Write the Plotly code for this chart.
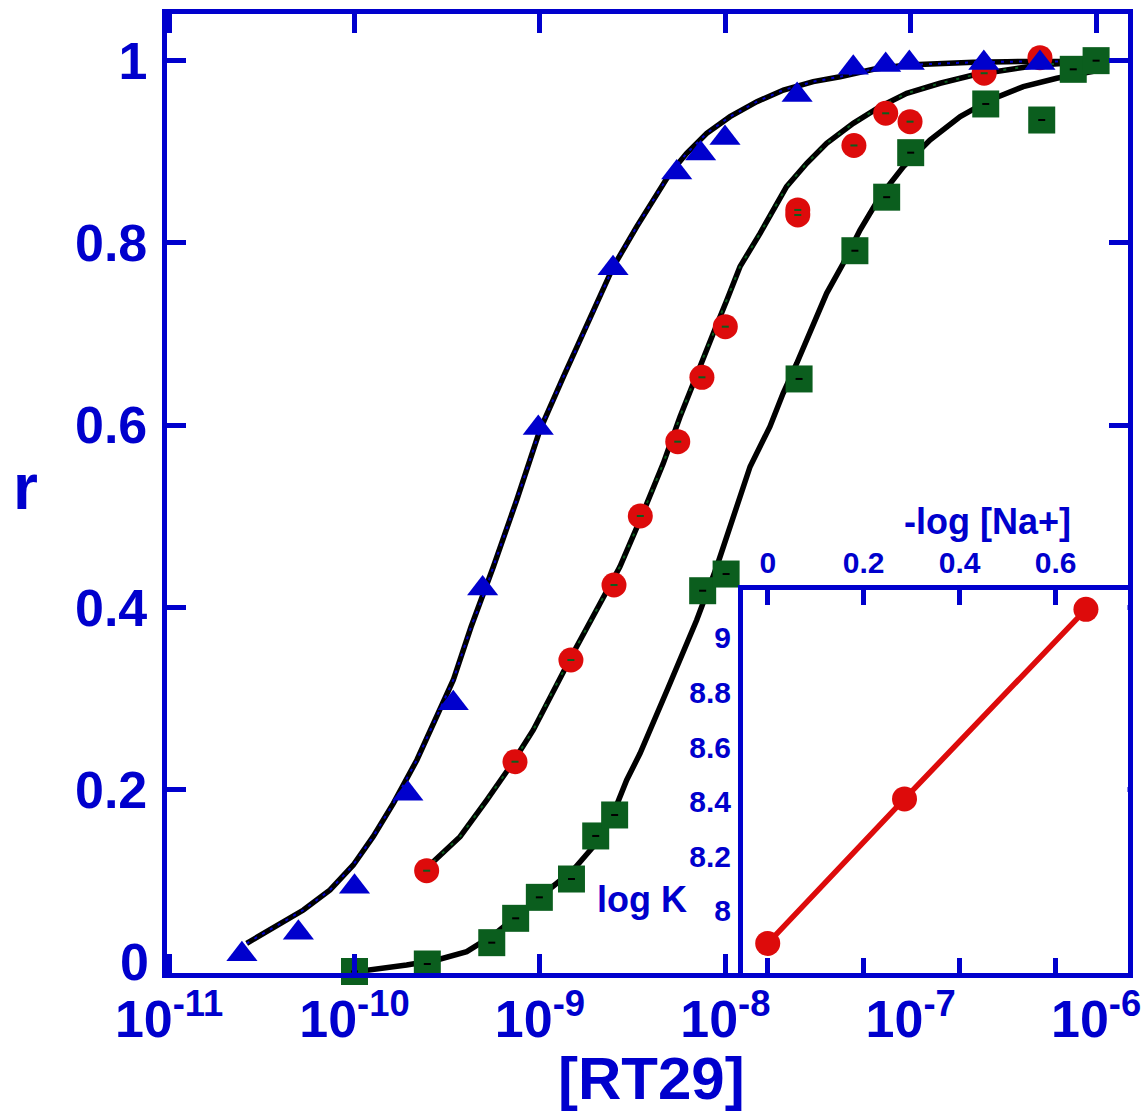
import plotly.graph_objects as go

# ---------------- data ----------------
# binding isotherms: r versus free [RT29] (M) at three ionic strengths
tri_x = [2.47e-11, 4.98e-11, 1.00e-10, 1.94e-10, 3.41e-10, 4.91e-10, 9.80e-10, 2.48e-9,
         5.47e-9, 7.36e-9, 9.96e-9, 2.44e-8, 4.90e-8, 7.33e-8, 9.83e-8, 2.48e-7, 4.98e-7]
tri_r = [0.020, 0.0435, 0.094, 0.196, 0.295, 0.421, 0.597, 0.772,
         0.877, 0.898, 0.915, 0.962, 0.992, 0.995, 0.997, 0.997, 0.997]

circ_x = [2.45e-10, 7.34e-10, 1.47e-9, 2.51e-9, 3.48e-9, 5.54e-9, 7.48e-9, 1.00e-8,
          2.46e-8, 2.46e-8, 4.94e-8, 7.33e-8, 9.92e-8, 2.49e-7, 4.98e-7]
circ_r = [0.1115, 0.231, 0.3425, 0.4248, 0.5004, 0.5819, 0.6525, 0.708,
          0.836, 0.8305, 0.9067, 0.942, 0.9328, 0.9859, 1.003]

sq_x = [1.00e-10, 2.47e-10, 5.50e-10, 7.40e-10, 9.93e-10, 1.48e-9, 2.00e-9, 2.53e-9, 7.55e-9,
        1.01e-8, 2.50e-8, 5.00e-8, 7.42e-8, 1.00e-7, 2.54e-7, 5.09e-7, 7.53e-7, 1.00e-6]
sq_r = [0.001, 0.0092, 0.0326, 0.0593, 0.0823, 0.1024, 0.1496, 0.1726, 0.4185,
        0.4368, 0.6507, 0.7913, 0.850, 0.8988, 0.9522, 0.9346, 0.9902, 0.9997]

# fitted curves
fit1_x = [2.62e-11, 3.36e-11, 5.30e-11, 7.38e-11, 9.85e-11, 1.26e-10, 1.62e-10, 2.17e-10,
          2.78e-10, 3.41e-10, 4.25e-10, 5.17e-10, 5.61e-10, 7.50e-10, 1.00e-9, 1.34e-9,
          1.79e-9, 2.49e-9, 3.33e-9, 4.09e-9, 5.03e-9, 6.19e-9, 7.94e-9, 1.06e-8, 1.48e-8,
          2.06e-8, 2.98e-8, 4.16e-8, 6.29e-8, 9.52e-8, 1.44e-7, 2.18e-7, 3.30e-7, 4.98e-7, 6.39e-7]
fit1_r = [0.0319, 0.0446, 0.0684, 0.0904, 0.1178, 0.1488, 0.1854, 0.2329,
          0.2804, 0.3206, 0.3787, 0.4229, 0.4448, 0.518, 0.5947, 0.6532,
          0.708, 0.7738, 0.8177, 0.8469, 0.8762, 0.8981, 0.9201, 0.9383, 0.9547,
          0.9675, 0.9767, 0.9821, 0.9902, 0.995, 0.9968, 0.9979, 0.9986, 0.9986, 0.9988]

fit2_x = [2.66e-10, 3.71e-10, 5.17e-10, 6.90e-10, 9.21e-10, 1.18e-9, 1.51e-9, 2.02e-9,
          2.70e-9, 3.47e-9, 4.63e-9, 5.70e-9, 7.01e-9, 8.62e-9, 1.02e-8, 1.20e-8, 1.54e-8,
          2.14e-8, 2.75e-8, 3.52e-8, 4.90e-8, 6.83e-8, 9.52e-8, 1.44e-7, 2.18e-7, 3.30e-7,
          4.98e-7, 7.53e-7]
fit2_r = [0.1214, 0.1488, 0.189, 0.2255, 0.2658, 0.3096, 0.3499, 0.3974,
          0.4448, 0.4961, 0.5582, 0.6093, 0.6569, 0.7008, 0.7373, 0.7738, 0.8104,
          0.8615, 0.8872, 0.9091, 0.931, 0.9492, 0.9639, 0.9749, 0.984, 0.9902,
          0.995, 0.9975]

fit3_x = [1.12e-10, 1.49e-10, 1.91e-10, 2.78e-10, 4.03e-10, 5.61e-10, 7.81e-10, 1.13e-9,
          1.51e-9, 1.94e-9, 2.49e-9, 2.94e-9, 3.47e-9, 4.91e-9, 7.01e-9, 8.99e-9, 1.10e-8,
          1.36e-8, 1.74e-8, 2.05e-8, 2.43e-8, 2.86e-8, 3.52e-8, 4.33e-8, 5.33e-8, 6.83e-8,
          9.12e-8, 1.27e-7, 1.85e-7, 2.68e-7, 4.05e-7, 6.13e-7, 1.05e-6]
fit3_r = [0.0019, 0.0045, 0.0081, 0.0136, 0.0227, 0.041, 0.0648, 0.0904,
          0.1123, 0.1378, 0.1745, 0.211, 0.2402, 0.3118, 0.3864, 0.4448, 0.4997,
          0.5545, 0.5984, 0.635, 0.6679, 0.7025, 0.7446, 0.7775, 0.814, 0.8506,
          0.8834, 0.9127, 0.9383, 0.9566, 0.9712, 0.9804, 0.9895]

# inset: log K versus -log [Na+]
na_x = [0.0, 0.285, 0.663]
logk = [7.88, 8.41, 9.105]

x_tick_vals = [1e-11, 1e-10, 1e-9, 1e-8, 1e-7, 1e-6]
x_tick_text = ["10<sup>-11</sup>", "10<sup>-10</sup>", "10<sup>-9</sup>",
               "10<sup>-8</sup>", "10<sup>-7</sup>", "10<sup>-6</sup>"]
y_tick_vals = [0, 0.2, 0.4, 0.6, 0.8, 1.0]
y_tick_text = ["", "0.2", "0.4", "0.6", "0.8", "1"]
ins_x_ticks = [0, 0.2, 0.4, 0.6]
ins_y_ticks = [8, 8.2, 8.4, 8.6, 8.8, 9]

# ---------------- style ----------------
BLUE = "#0000CD"
RED = "#DD0B0B"
GREEN = "#0B5E1E"
FONT = "Liberation Sans"
W, H = 1148, 1115


def fx(p):
    return p / W


def fy(p):
    return 1 - p / H


fig = go.Figure()

# fitted curves (black) with thin coloured dotted overlays
for cx, cy in [(fit1_x, fit1_r), (fit2_x, fit2_r), (fit3_x, fit3_r)]:
    fig.add_trace(go.Scatter(x=cx, y=cy, mode="lines",
                             line=dict(color="black", width=5.5), hoverinfo="skip"))
fig.add_trace(go.Scatter(x=fit1_x, y=fit1_r, mode="lines",
                         line=dict(color=BLUE, width=2, dash="3px,6px"), hoverinfo="skip"))
fig.add_trace(go.Scatter(x=fit2_x, y=fit2_r, mode="lines",
                         line=dict(color=GREEN, width=2, dash="3px,9px"), hoverinfo="skip"))

# data points
fig.add_trace(go.Scatter(x=circ_x, y=circ_r, mode="markers", cliponaxis=False,
                         marker=dict(symbol="circle", size=25, color=RED, line=dict(width=0))))
fig.add_trace(go.Scatter(x=circ_x, y=circ_r, mode="markers", cliponaxis=False,
                         marker=dict(symbol="line-ew", size=5, line=dict(color=GREEN, width=2))))
fig.add_trace(go.Scatter(x=sq_x, y=sq_r, mode="markers", cliponaxis=False,
                         marker=dict(symbol="square", size=27, color=GREEN, line=dict(width=0))))
fig.add_trace(go.Scatter(x=sq_x, y=sq_r, mode="markers", cliponaxis=False,
                         marker=dict(symbol="line-ew", size=5, line=dict(color="black", width=2))))
fig.add_trace(go.Scatter(x=tri_x, y=tri_r, mode="markers", cliponaxis=False,
                         marker=dict(symbol="triangle-up", size=27, color=BLUE, line=dict(width=0))))

# inset
fig.add_trace(go.Scatter(x=na_x, y=logk, mode="lines+markers", xaxis="x2", yaxis="y2",
                         cliponaxis=False,
                         line=dict(color=RED, width=5.5),
                         marker=dict(symbol="circle", size=25, color=RED, line=dict(width=0))))

tick_font = dict(family=FONT, size=52, color=BLUE, weight="bold")
ins_font = dict(family=FONT, size=30, color=BLUE, weight="bold")

fig.update_layout(
    width=W, height=H,
    margin=dict(l=0, r=0, t=0, b=0, autoexpand=False),
    paper_bgcolor="white", plot_bgcolor="white",
    showlegend=False,
    xaxis=dict(type="log", range=[-11.013, -5.8306], automargin=False,
               domain=[fx(166.7), fx(1127.5)],
               tickvals=x_tick_vals, ticktext=x_tick_text,
               ticks="inside", ticklen=19, tickwidth=5, tickcolor=BLUE,
               showline=True, linewidth=5, linecolor=BLUE, mirror="ticks",
               showgrid=False, zeroline=False, tickfont=tick_font,
               ticklabelstandoff=-3),
    yaxis=dict(range=[-0.00066, 1.0514], automargin=False,
               domain=[fy(973), fy(13.5)],
               tickvals=y_tick_vals, ticktext=y_tick_text,
               ticks="inside", ticklen=19, tickwidth=5, tickcolor=BLUE,
               showline=True, linewidth=5, linecolor=BLUE, mirror="ticks",
               showgrid=False, zeroline=False, tickfont=tick_font,
               ticklabelstandoff=4),
    xaxis2=dict(range=[-0.0515, 0.7496], domain=[fx(743), fx(1127.5)], automargin=False,
                anchor="y2", side="top",
                tickvals=ins_x_ticks, ticktext=["0", "0.2", "0.4", "0.6"],
                ticks="inside", ticklen=15, tickwidth=5, tickcolor=BLUE,
                showline=True, linewidth=5, linecolor=BLUE, mirror="ticks",
                showgrid=False, zeroline=False, tickfont=ins_font,
                ticklabelstandoff=0),
    yaxis2=dict(range=[7.7715, 9.176], domain=[fy(973), fy(590)], automargin=False,
                anchor="x2",
                tickvals=ins_y_ticks, ticktext=["8", "8.2", "8.4", "8.6", "8.8", "9"],
                ticks="", showline=True, linewidth=5, linecolor=BLUE, mirror=True,
                showgrid=False, zeroline=False, tickfont=ins_font,
                ticklabelstandoff=1),
)

ann_font = dict(family=FONT, color=BLUE, weight="bold")
annotations = [
    dict(text="[RT29]", x=fx(651.5), y=fy(1078), font=dict(size=60, **ann_font)),
    dict(text="r", x=fx(25), y=fy(487), font=dict(size=64, **ann_font)),
    dict(text="0", x=fx(134), y=fy(962), font=dict(size=52, **ann_font)),
    dict(text="log K", x=fx(641.5), y=fy(899), font=dict(size=36, **ann_font)),
    dict(text="-log [Na+]", x=fx(987.5), y=fy(521), font=dict(size=36, **ann_font)),
]
for a in annotations:
    fig.add_annotation(xref="paper", yref="paper", showarrow=False,
                       xanchor="center", yanchor="middle", **a)

fig.write_html("out.html")
